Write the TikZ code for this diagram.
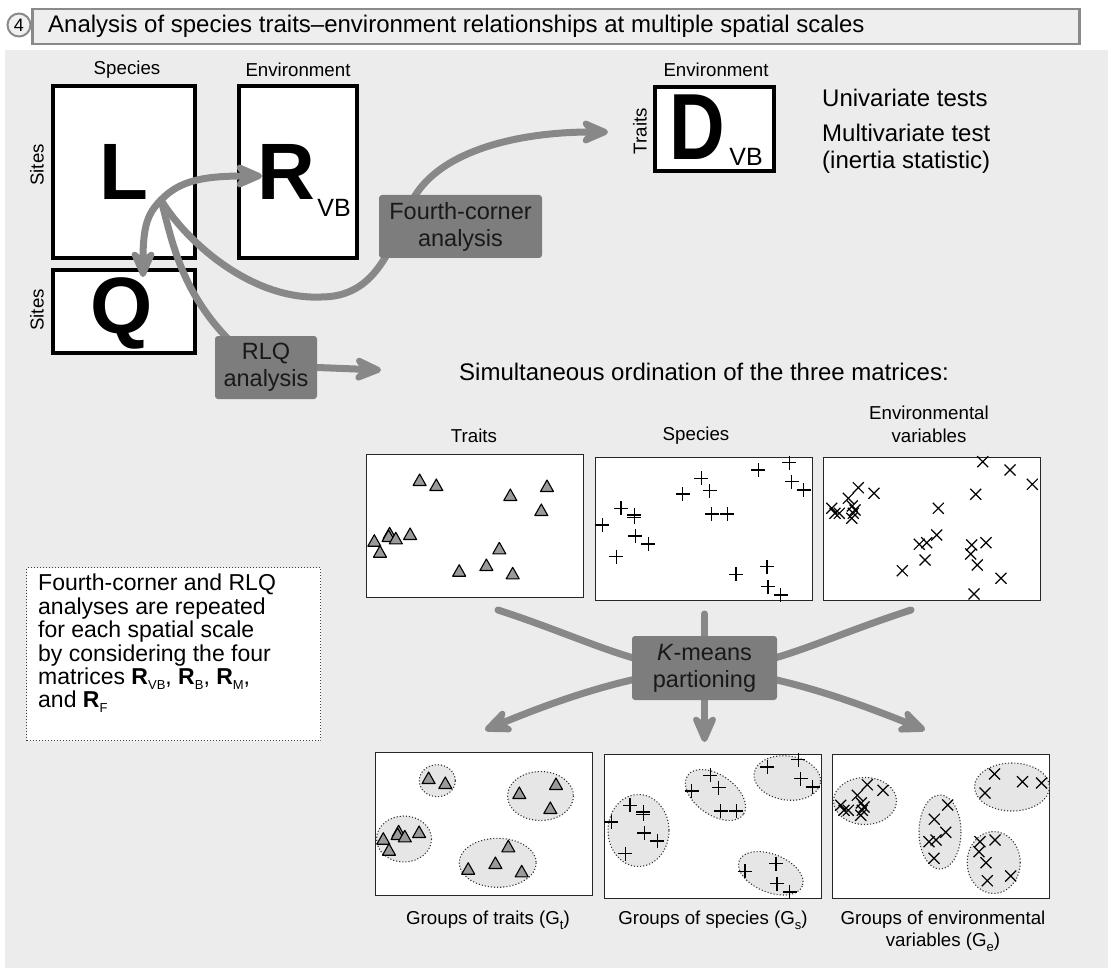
\documentclass[tikz,border=0pt]{standalone}
\usepackage{fontspec}
\setmainfont{Liberation Sans}
\setsansfont{Liberation Sans}
\usetikzlibrary{arrows.meta,shapes.geometric,calc}
\definecolor{panelbg}{HTML}{ECECEC}
\definecolor{titlebg}{HTML}{EEEEEE}
\definecolor{framegray}{HTML}{8A8A8A}
\definecolor{boxgray}{HTML}{7D7D7D}
\definecolor{arrgray}{HTML}{888888}
\definecolor{trigray}{HTML}{9A9A9A}
\definecolor{grpfill}{HTML}{E6E6E6}
\newcommand{\myfs}[2]{\fontsize{#1}{#2}\selectfont}
\newcommand{\lowsub}[1]{\raisebox{-5pt}{\myfs{13}{13}#1}}
\pgfdeclarelayer{back}
\pgfdeclarelayer{arrows}
\pgfsetlayers{back,arrows,main}
\tikzset{
  lbl/.style={font=\myfs{18.7}{22.5}, inner sep=0pt, align=center},
  matbox/.style={draw=black, line width=3.5pt, fill=white, inner sep=0pt},
  bigl/.style={font=\bfseries\myfs{80}{80}, inner sep=0pt, anchor=base},
  subl/.style={font=\myfs{25}{25}, inner sep=0pt, anchor=base},
  gbox/.style={fill=boxgray, rounded corners=3pt, align=center, font=\myfs{23.5}{27}, text=black!90, inner sep=0pt},
  arr/.style={draw=arrgray, line width=7pt, line cap=round, -{Stealth[length=36pt,width=31pt,inset=12pt,round]}},
  conn/.style={draw=arrgray, line width=7pt, line cap=round},
  plotbox/.style={draw=black!85, line width=1.4pt, fill=white, inner sep=0pt, anchor=north west},
  grp/.style={draw=black!80, dotted, line width=1.1pt, fill=grpfill},
  tri/.style={draw=black, line width=1.1pt, fill=trigray, line join=round},
  mk/.style={draw=black, line width=1.2pt},
  bigtxt/.style={font=\myfs{24}{27}, inner sep=0pt, align=left}
}
\begin{document}
\begin{tikzpicture}[x=1pt,y=-1pt]
\useasboundingbox (0,0) rectangle (1108,968);

\begin{pgfonlayer}{back}
\fill[panelbg] (5,50) rectangle (1108,968);
% title
\node[draw=framegray, line width=2.5pt, fill=titlebg, minimum width=1047pt, minimum height=35pt, anchor=north west, inner sep=0pt] (titlebar) at (31,8) {};
\node[circle, draw=framegray, line width=2pt, fill=white!94!black, minimum size=23pt, inner sep=0pt, font=\myfs{18}{18}] (num) at (19,25) {4};
\node[anchor=west, font=\myfs{24}{24}, inner sep=0pt] (titletext) at (48,26) {Analysis of species traits–environment relationships at multiple spatial scales};

% matrices
\node[lbl] (spLab) at (127,70) {Species};
\node[lbl] (envLab) at (298,70) {Environment};
\node[lbl] (envLabD) at (716,70) {Environment};
\node[lbl, rotate=90] (sites1) at (37,165) {Sites};
\node[lbl, rotate=90] (sites2) at (37,310) {Sites};
\node[lbl, rotate=90] (traitsLab) at (640,131) {Traits};

\node[matbox, minimum width=142pt, minimum height=172pt] (Lbox) at (124,172) {};
\node[matbox, minimum width=118pt, minimum height=172pt] (Rbox) at (298,172) {};
\node[matbox, minimum width=142pt, minimum height=83pt] (Qbox) at (124,311.5) {};
\node[matbox, minimum width=119pt, minimum height=84pt] (Dbox) at (714.5,129) {};

\node[bigl] (Lt) at (124,200) {L};
\node[bigl] (Rt) at (286.5,200) {R};
\node[subl] (Rsub) at (334,217) {VB};
\node[bigl] (Qt) at (122,334) {Q};
\node[bigl, font=\bfseries\myfs{94}{94}] (Dt) at (697.5,160) {\scalebox{0.82}[1]{D}};
\node[subl] (Dsub) at (746,166) {VB};

% ordination panels
\node[lbl] (trLab) at (474,436) {Traits};
\node[lbl] (spLab2) at (696,436) {Species};
\node[lbl] (evLab) at (929,424.5) {Environmental\\variables};
\node[plotbox, minimum width=217pt, minimum height=143pt] (tp1) at (366,454) {};
\node[plotbox, minimum width=217pt, minimum height=143pt] (tp2) at (595,457) {};
\node[plotbox, minimum width=217pt, minimum height=143pt] (tp3) at (823,457) {};
\node[plotbox, minimum width=217pt, minimum height=143pt] (bp1) at (375,752) {};
\node[plotbox, minimum width=217pt, minimum height=144pt] (bp2) at (604,754) {};
\node[plotbox, minimum width=217pt, minimum height=144pt] (bp3) at (832,754) {};

\node[lbl] (cap1) at (488,920) {Groups of traits (G\lowsub{t})};
\node[lbl] (cap2) at (713,920) {Groups of species (G\lowsub{s})};
\node[lbl] (cap3) at (943,931.5) {Groups of environmental\\variables (G\lowsub{e})};

% group ellipses
\draw[grp] (437.3,780.7) ellipse [x radius=18, y radius=16];
\draw[grp] (540.5,796) ellipse [x radius=33, y radius=24.5];
\draw[grp] (404,839) ellipse [x radius=27.5, y radius=23];
\draw[grp] (497.7,862.8) ellipse [x radius=38.5, y radius=24.5];
\draw[grp] (638.5,830.5) ellipse [x radius=30.5, y radius=36];
\draw[grp, rotate around={-35:(715.5,795)}] (715.5,795) ellipse [x radius=34, y radius=20];
\draw[grp, rotate around={-8:(787.3,778)}] (787.3,778) ellipse [x radius=33.5, y radius=22];
\draw[grp, rotate around={-22:(770.8,873.3)}] (770.8,873.3) ellipse [x radius=34, y radius=19];
\draw[grp] (865,801) ellipse [x radius=31.5, y radius=23.5];
\draw[grp] (1012,787) ellipse [x radius=37.5, y radius=24];
\draw[grp] (940,832) ellipse [x radius=21, y radius=37];
\draw[grp] (993.7,862.5) ellipse [x radius=26.5, y radius=31];

% triangles (traits)
\foreach \px/\py in {419.6/480,436.3/485,510.3/495,547/486,541.3/510,389.6/533.3,388.6/536,410.1/534,395.8/538.3,374.3/540.7,380/551.7,499.3/548.3,459.2/570.7,486.4/565,512.7/573.3}{
  \draw[tri] (\px-6.5,\py+5.5) -- (\px+6.5,\py+5.5) -- (\px,\py-6) -- cycle;
  \draw[tri] (\px+9-6.5,\py+298+5.5) -- (\px+9+6.5,\py+298+5.5) -- (\px+9,\py+298-6) -- cycle;
}
% plus (species)
\foreach \px/\py in {789.4/462.7,758.4/470,791.8/481.7,803.7/490,701.1/478.3,709.7/490.7,682.5/494,621/508.3,634.3/515,634.3/517.3,711.6/514,727.4/514,602.4/525,635.3/536,648.2/544,616.2/556.7,735.9/574.3,767/566.7,767.9/586.7,780.8/595}{
  \draw[mk] (\px-7,\py) -- (\px+7,\py) (\px,\py-7) -- (\px,\py+7);
  \draw[mk] (\px+9-7,\py+297) -- (\px+9+7,\py+297) (\px+9,\py+297-7) -- (\px+9,\py+297+7);
}
% crosses (environment, top)
\foreach \px/\py in {982.7/461.7,1010/470,1032.3/484.3,858.3/487.7,874/493.3,975.7/494.3,848.3/498.3,852.3/506,855/510,831.7/508.3,835/513.3,839.3/513.3,851.7/518.3,853.3/513.3,938.3/508.3,936.7/535,926.7/542.7,919.3/544.3,971.7/545,986/542.7,970.7/554,977.3/565,925/560,902.3/570.7,1001/578.3,974/594}{
  \draw[mk] (\px-5.5,\py-5.5) -- (\px+5.5,\py+5.5) (\px-5.5,\py+5.5) -- (\px+5.5,\py-5.5);
}
% crosses (environment, groups)
\foreach \px/\py in {867.3/784.7,883/790.3,857.3/795.3,861.3/803,864/807,840.7/805.3,844/810.3,848.3/810.3,860.7/815.3,862.3/810.3,947.7/805,934.3/819.3,945.7/832.3,936/840,929/841.7,934/858.3,980/841.7,995/840,979/851.7,986/862.7,987.3/880.7,1010.7/876,994.5/774,1022.5/781.7,1041.5/783,985/793}{
  \draw[mk] (\px-5.5,\py-5.5) -- (\px+5.5,\py+5.5) (\px-5.5,\py+5.5) -- (\px+5.5,\py-5.5);
}

% note box
\node[draw=black!75, dotted, line width=1pt, fill=white, minimum width=294pt, minimum height=173pt, anchor=north west, inner sep=0pt] (note) at (26,567) {};
\node[anchor=north west, font=\myfs{23}{23.4}, align=left, inner sep=0pt] (notetxt) at (38,574) {Fourth-corner and RLQ\\analyses are repeated\\for each spatial scale\\by considering the four\\matrices \textbf{R}\lowsub{VB}, \textbf{R}\lowsub{B}, \textbf{R}\lowsub{M},\\and \textbf{R}\lowsub{F}};

% right texts
\node[bigtxt, anchor=west] (uni) at (822,98) {Univariate tests};
\node[bigtxt, anchor=west] (multi) at (822,148.5) {Multivariate test\\(inertia statistic)};
\node[bigtxt, anchor=west] (simul) at (459,372) {Simultaneous ordination of the three matrices:};
\end{pgfonlayer}

% gray boxes (on top)
\node[gbox, minimum width=163pt, minimum height=63pt] (fc) at (460.5,226.5) {Fourth-corner\\analysis};
\node[gbox, minimum width=102pt, minimum height=63pt] (rlq) at (266,367.5) {RLQ\\analysis};
\node[gbox, minimum width=145pt, minimum height=64pt] (km) at (704.5,668) {\textit{K}-means\\partioning};

\coordinate (hub) at (161,200);
\coordinate (Rtip) at (262,176);
\coordinate (Qtip) at (143,277);
\coordinate (Dtip) at (608,132);
\coordinate (simTip) at (381,370);
\coordinate (kTL) at (498,610);
\coordinate (kTR) at (911,610);
\coordinate (kTC) at (704.5,614);
\coordinate (kBL) at (485,730);
\coordinate (kBR) at (925,730);
\coordinate (kBC) at (704.5,742);

\begin{pgfonlayer}{arrows}
\draw[arr] (hub) .. controls (180,180) and (205,176) .. (Rtip);
\draw[arr] (hub) .. controls (148,213) and (143,225) .. (Qtip);
\draw[arr] (hub) .. controls (185,240) and (250,300) .. (321,297)
               .. controls (375,297) and (390,250) .. (410,205)
               .. controls (435,150) and (520,132) .. (Dtip);
\draw[conn] (hub) .. controls (172,240) and (180,290) .. ($(rlq.north west)+(15,5)$);
\draw[arr] (rlq.east) -- (simTip);
\draw[conn] (kTC) -- (km.north);
\draw[arr] (km.south) -- (kBC);
\draw[arr] (kTL) .. controls (590,640) and (640,670) .. (km.center)
                 .. controls (780,675) and (850,700) .. (kBR);
\draw[arr] (kTR) .. controls (818,640) and (768,670) .. (km.center)
                 .. controls (628,675) and (558,700) .. (kBL);
\end{pgfonlayer}
\end{tikzpicture}
\end{document}
